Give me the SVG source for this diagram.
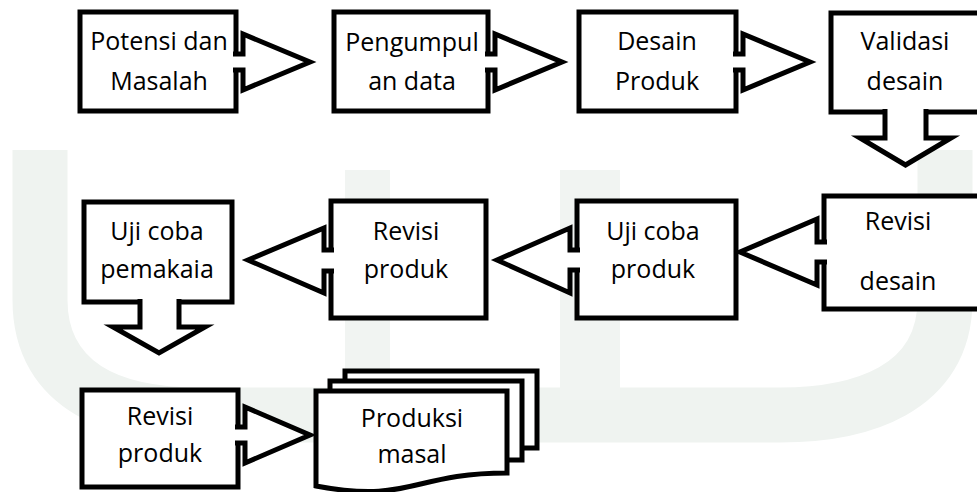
<svg xmlns="http://www.w3.org/2000/svg" width="977" height="492" viewBox="0 0 977 492">
  <style>
    .box { fill: #ffffff; stroke: #000000; stroke-width: 5; stroke-linejoin: miter; }
    .arrow { fill: #ffffff; stroke: #000000; stroke-width: 5; stroke-linejoin: miter; stroke-linecap: butt; }
    .lbl { font-family: "Open Sans", "Noto Sans", "Liberation Sans", sans-serif; font-size: 25px; fill: #000000; text-anchor: middle; }
    .wm { fill: none; stroke: #eff3f0; }
  </style>
  <rect x="0" y="0" width="977" height="492" fill="#ffffff"/>
  <g id="watermark">
    <path class="wm" stroke-width="55" d="M40,150 V300 C40,390 120,415 200,415 H780 C860,415 945,390 945,300 V150"/>
    <rect x="345" y="170" width="45" height="230" fill="#f1f4f2"/>
    <rect x="560" y="170" width="60" height="230" fill="#f1f4f2"/>
  </g>

  <g id="nodes">
    <g id="n1">
      <rect class="box" x="80" y="12" width="156" height="99"/>
      <text class="lbl" x="159" y="50">Potensi dan</text>
      <text class="lbl" x="159" y="90">Masalah</text>
    </g>
    <g id="n2">
      <rect class="box" x="334" y="12" width="154" height="99"/>
      <text class="lbl" x="412" y="51">Pengumpul</text>
      <text class="lbl" x="412" y="90">an data</text>
    </g>
    <g id="n3">
      <rect class="box" x="579" y="12" width="157" height="99"/>
      <text class="lbl" x="657" y="50">Desain</text>
      <text class="lbl" x="657" y="90">Produk</text>
    </g>
    <g id="n4">
      <rect class="box" x="831" y="13" width="160" height="99"/>
      <text class="lbl" x="905" y="50">Validasi</text>
      <text class="lbl" x="905" y="90">desain</text>
    </g>
    <g id="n5">
      <rect class="box" x="824" y="196" width="170" height="113"/>
      <text class="lbl" x="898" y="230">Revisi</text>
      <text class="lbl" x="898" y="290">desain</text>
    </g>
    <g id="n6">
      <rect class="box" x="577" y="201" width="159" height="117"/>
      <text class="lbl" x="653" y="240">Uji coba</text>
      <text class="lbl" x="653" y="278">produk</text>
    </g>
    <g id="n7">
      <rect class="box" x="331" y="201" width="155" height="117"/>
      <text class="lbl" x="406" y="240">Revisi</text>
      <text class="lbl" x="406" y="278">produk</text>
    </g>
    <g id="n8">
      <rect class="box" x="84" y="202" width="148" height="100"/>
      <text class="lbl" x="157" y="240">Uji coba</text>
      <text class="lbl" x="157" y="278">pemakaia</text>
    </g>
    <g id="n9">
      <rect class="box" x="82" y="390" width="156" height="97"/>
      <text class="lbl" x="160" y="425">Revisi</text>
      <text class="lbl" x="160" y="462">produk</text>
    </g>
    <g id="n10">
      <rect class="box" x="345" y="371" width="192" height="77"/>
      <rect class="box" x="330" y="381" width="192" height="79"/>
      <path class="box" d="M316,391 H507 V473 C411.5,473 411.5,504 316,486 Z"/>
      <text class="lbl" x="412" y="427">Produksi</text>
      <text class="lbl" x="412" y="463">masal</text>
    </g>
  </g>

  <g id="connectors">
    <path class="arrow" d="M233,54 H243 V34 L310,62 L243,90 V70 H233"/>
    <path class="arrow" d="M485,54 H495 V34 L562,62 L495,90 V70 H485"/>
    <path class="arrow" d="M733,54 H743 V34 L810,62 L743,90 V70 H733"/>
    <path class="arrow" d="M885,109 V138 H860 L905.5,165 L951,138 H926 V109"/>
    <path class="arrow" d="M827,242 H817 V219 L740,252 L817,285 V262 H827"/>
    <path class="arrow" d="M580,250 H570 V228 L497,260 L570,293 V270 H580"/>
    <path class="arrow" d="M334,250 H324 V228 L248,260 L324,293 V271 H334"/>
    <path class="arrow" d="M140,299 V327 H113 L159,353 L205,327 H179 V299"/>
    <path class="arrow" d="M235,427 H245 V407 L310,435 L245,463 V443 H235"/>
  </g>
</svg>
